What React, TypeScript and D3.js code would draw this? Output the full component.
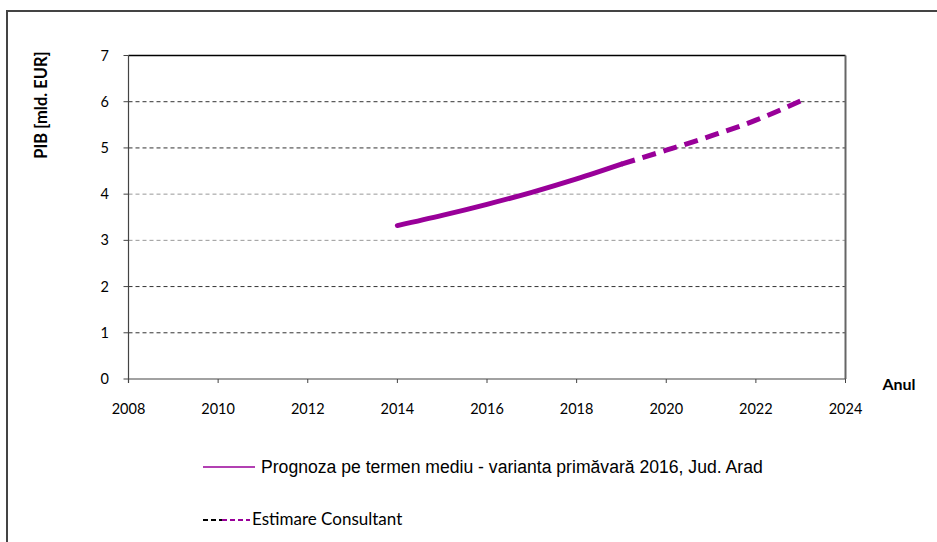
import React from "react";
import * as d3 from "d3";

const years = [2014, 2015, 2016, 2017, 2018, 2019];
const forecast = [3.32, 3.54, 3.78, 4.04, 4.33, 4.65];
const estYears = [2019, 2020, 2021, 2022, 2023];
const estimate = [4.65, 4.95, 5.26, 5.6, 6.02];
const xTicks = [2008, 2010, 2012, 2014, 2016, 2018, 2020, 2022, 2024];
const yTicks = [0, 1, 2, 3, 4, 5, 6, 7];
const legend1 = "Prognoza pe termen mediu - varianta primăvară 2016, Jud. Arad";
const legend2 = "Estimare Consultant";
const yTitle = "PIB [mld. EUR]";
const xTitle = "Anul";

export default function App() {
  const W = 937, H = 542;
  const L = 128.5, R = 845.5, T = 55.5, B = 379;
  const x = d3.scaleLinear().domain([2008, 2024]).range([L, R]);
  const y = d3.scaleLinear().domain([0, 7]).range([B, T]);
  const line = d3.line<[number, number]>().x(d => x(d[0])).y(d => y(d[1])).curve(d3.curveMonotoneX);
  const solid = line(years.map((yr, i) => [yr, forecast[i]]));
  const dashed = line(estYears.map((yr, i) => [yr, estimate[i]]));
  const purple = "#990099";
  const font = "Lato, Open Sans, sans-serif";
  const gridColor = (v: number) => (v === 3 || v === 4 ? "#999" : "#333");
  return (
    <svg width={W} height={H} style={{ position: "absolute", left: 0, top: 0, background: "#fff" }}>
      <rect x={7} y={11} width={W + 10} height={H + 10} fill="#fff" stroke="#444" strokeWidth={2} />
      {yTicks.filter(v => v > 0 && v < 7).map(v => (
        <line key={v} x1={L} x2={R} y1={y(v)} y2={y(v)} stroke={gridColor(v)} strokeWidth={1} strokeDasharray="4,3" />
      ))}
      <line x1={L} x2={R} y1={T} y2={T} stroke="#000" strokeWidth={1.5} />
      <line x1={R} x2={R} y1={T} y2={B} stroke="#666" strokeWidth={2} />
      <line x1={L} x2={R} y1={B} y2={B} stroke="#444" strokeWidth={1.2} />
      <line x1={L} x2={L} y1={T} y2={B + 4} stroke="#444" strokeWidth={1.2} />
      {yTicks.map(v => (
        <g key={v}>
          <line x1={L - 5} x2={L} y1={y(v)} y2={y(v)} stroke="#444" strokeWidth={1} />
          <text x={109} y={y(v)} dy="0.35em" textAnchor="end" fontFamily={font} fontSize={14.5} fill="#000">{v}</text>
        </g>
      ))}
      {xTicks.map(v => (
        <g key={v}>
          <line x1={x(v)} x2={x(v)} y1={B} y2={B + 4} stroke="#444" strokeWidth={1} />
          <text x={x(v)} y={414} textAnchor="middle" fontFamily={font} fontSize={14.5} fill="#000">{v}</text>
        </g>
      ))}
      <text x={899} y={390} textAnchor="middle" fontFamily={font} fontSize={16} fontWeight="bold" fill="#000">{xTitle}</text>
      <text transform={`translate(47,105) rotate(-90)`} textAnchor="middle" fontFamily={font} fontSize={16.5} fontWeight="bold" fill="#000">{yTitle}</text>
      <path d={solid || ""} fill="none" stroke={purple} strokeWidth={5} strokeLinecap="round" />
      <path d={dashed || ""} fill="none" stroke={purple} strokeWidth={5} strokeDasharray="14,8" strokeLinecap="butt" />
      <line x1={203} x2={255} y1={467} y2={467} stroke={purple} strokeWidth={1.5} />
      <text x={261} y={473} fontFamily="Liberation Sans, Arial, sans-serif" fontSize={17.6} fill="#000">{legend1}</text>
      <line x1={203} x2={222} y1={520} y2={520} stroke="#000" strokeWidth={2} strokeDasharray="5,3" />
      <line x1={222} x2={250} y1={520} y2={520} stroke={purple} strokeWidth={2} strokeDasharray="5,3" />
      <text x={252} y={525} fontFamily={font} fontSize={17} fill="#000">{legend2}</text>
    </svg>
  );
}
